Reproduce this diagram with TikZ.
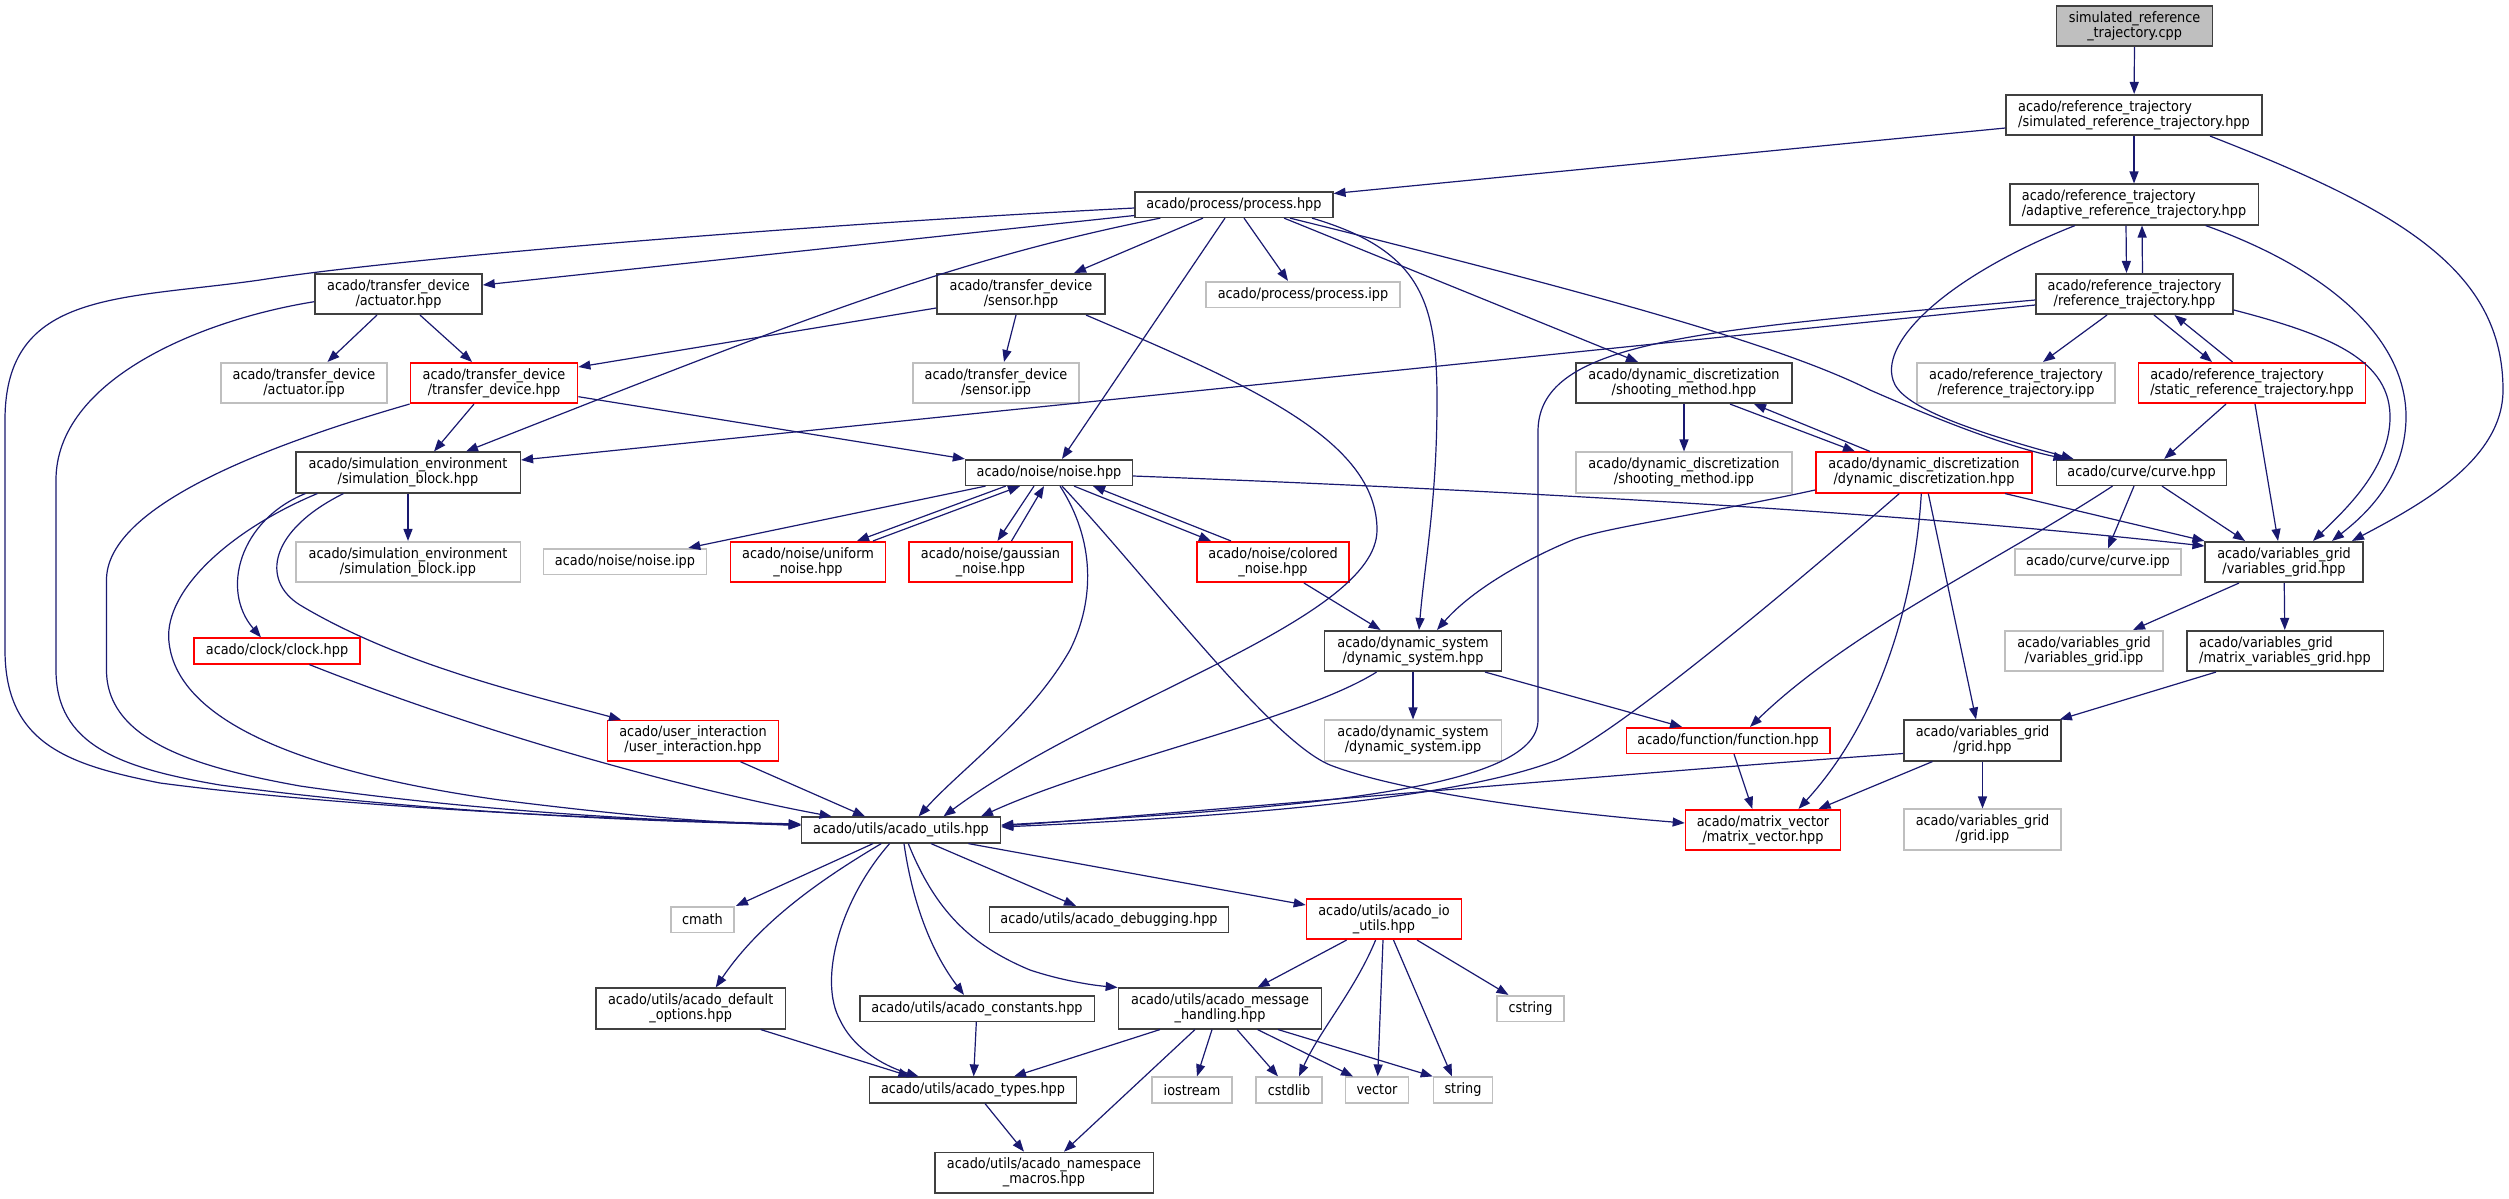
\documentclass[tikz,border=0pt]{standalone}
\usepackage{fontspec}
\setmainfont{DejaVu Sans}[FakeStretch=0.9]
\usetikzlibrary{arrows.meta}
\definecolor{edgec}{HTML}{191970}
\definecolor{dk}{HTML}{404040}
\definecolor{lg}{HTML}{BFBFBF}
\definecolor{rd}{HTML}{FF0000}
\begin{document}
\begin{tikzpicture}[x=1pt,y=-1pt,
  font=\fontsize{14.3pt}{15pt}\selectfont,
  box/.style={draw=dk, line width=1.6pt, fill=white, inner xsep=11pt, inner ysep=1pt, align=center},
  one/.style={box, minimum height=25.6pt},
  two/.style={box, minimum height=40.5pt},
  rb/.style={draw=rd},
  gb/.style={draw=lg},
  edg/.style={draw=edgec, line width=1.2pt, -{Triangle[length=12pt,width=9pt]}}]
\useasboundingbox[fill=white] (0,0) rectangle (2509,1199);
% nodes
\node[two, fill=lg, minimum width=156pt] (cpp) at (2134.6,26) {simulated\_reference\\\_trajectory.cpp};
\node[two, align=left, minimum width=255.5pt] (sim) at (2134,115) {acado/reference\_trajectory\\/simulated\_reference\_trajectory.hpp};
\node[two, align=left, minimum width=248.6pt] (adaptive) at (2134,204.5) {acado/reference\_trajectory\\/adaptive\_reference\_trajectory.hpp};
\node[two, minimum width=197pt] (reftraj) at (2134.5,294) {acado/reference\_trajectory\\/reference\_trajectory.hpp};
\node[two, gb, minimum width=197.5pt] (reftrajipp) at (2016,383) {acado/reference\_trajectory\\/reference\_trajectory.ipp};
\node[two, rb, align=left, minimum width=227.2pt] (static) at (2252,383) {acado/reference\_trajectory\\/static\_reference\_trajectory.hpp};
\node[one, minimum width=197.5pt] (process) at (1234,204.5) {acado/process/process.hpp};
\node[one, gb, minimum width=193.5pt] (processipp) at (1303,294.5) {acado/process/process.ipp};
\node[two, minimum width=167pt] (actuator) at (398.5,294) {acado/transfer\_device\\/actuator.hpp};
\node[two, gb, minimum width=166.4pt] (actuatoripp) at (304,383) {acado/transfer\_device\\/actuator.ipp};
\node[two, rb, minimum width=167.2pt] (transfer) at (494,383) {acado/transfer\_device\\/transfer\_device.hpp};
\node[two, minimum width=168pt] (sensor) at (1021,294) {acado/transfer\_device\\/sensor.hpp};
\node[two, gb, minimum width=166.5pt] (sensoripp) at (996,383) {acado/transfer\_device\\/sensor.ipp};
\node[two, minimum width=216pt] (shooting) at (1684,383) {acado/dynamic\_discretization\\/shooting\_method.hpp};
\node[two, minimum width=224.6pt] (simblock) at (408,472.5) {acado/simulation\_environment\\/simulation\_block.hpp};
\node[two, gb, minimum width=224.6pt] (simblockipp) at (408,562) {acado/simulation\_environment\\/simulation\_block.ipp};
\node[one, minimum width=166.7pt] (noise) at (1049,472.5) {acado/noise/noise.hpp};
\node[two, gb, minimum width=216pt] (shootingipp) at (1684,472.5) {acado/dynamic\_discretization\\/shooting\_method.ipp};
\node[two, rb, minimum width=216pt] (dyndisc) at (1924,472.5) {acado/dynamic\_discretization\\/dynamic\_discretization.hpp};
\node[one, minimum width=169.7pt] (curve) at (2141.5,472.5) {acado/curve/curve.hpp};
\node[one, gb, minimum width=162.8pt] (noiseipp) at (625,561.5) {acado/noise/noise.ipp};
\node[two, rb, minimum width=155.1pt] (uniform) at (808,562) {acado/noise/uniform\\\_noise.hpp};
\node[two, rb, minimum width=163pt] (gaussian) at (990.5,562) {acado/noise/gaussian\\\_noise.hpp};
\node[two, rb, minimum width=152.3pt] (colored) at (1273,562) {acado/noise/colored\\\_noise.hpp};
\node[one, gb, minimum width=165.6pt] (curveipp) at (2098,562) {acado/curve/curve.ipp};
\node[two, minimum width=157.5pt] (vargrid) at (2284,562) {acado/variables\_grid\\/variables\_grid.hpp};
\node[one, rb, minimum width=165.5pt] (clock) at (277,651) {acado/clock/clock.hpp};
\node[two, minimum width=176.8pt] (dynsys) at (1413,651) {acado/dynamic\_system\\/dynamic\_system.hpp};
\node[two, gb, minimum width=157.6pt] (vargridipp) at (2084,651) {acado/variables\_grid\\/variables\_grid.ipp};
\node[two, align=left, minimum width=196.6pt] (matvargrid) at (2285,651) {acado/variables\_grid\\/matrix\_variables\_grid.hpp};
\node[two, rb, minimum width=170.7pt] (userint) at (693,740.7) {acado/user\_interaction\\/user\_interaction.hpp};
\node[two, gb, minimum width=176.8pt] (dynsysipp) at (1413,740.5) {acado/dynamic\_system\\/dynamic\_system.ipp};
\node[one, rb, minimum width=203.4pt] (function) at (1728,740.5) {acado/function/function.hpp};
\node[two, minimum width=157.1pt] (grid) at (1982.5,740.5) {acado/variables\_grid\\/grid.hpp};
\node[one, minimum width=198.9pt] (utils) at (901,830) {acado/utils/acado\_utils.hpp};
\node[two, rb, minimum width=155pt] (matvec) at (1763,830) {acado/matrix\_vector\\/matrix\_vector.hpp};
\node[two, gb, minimum width=157.1pt] (gridipp) at (1982.5,829.5) {acado/variables\_grid\\/grid.ipp};
\node[one, gb, minimum width=63pt] (cmath) at (702.5,919.5) {cmath};
\node[one, minimum width=238.5pt] (debugging) at (1109,919.5) {acado/utils/acado\_debugging.hpp};
\node[two, rb, minimum width=155pt] (ioutils) at (1384,919) {acado/utils/acado\_io\\\_utils.hpp};
\node[two, minimum width=189.8pt] (defopts) at (690.7,1008.5) {acado/utils/acado\_default\\\_options.hpp};
\node[one, minimum width=234.6pt] (constants) at (977,1008.5) {acado/utils/acado\_constants.hpp};
\node[two, minimum width=203.1pt] (msghandling) at (1220,1008.5) {acado/utils/acado\_message\\\_handling.hpp};
\node[one, gb, minimum width=67pt] (cstring) at (1530.5,1008.5) {cstring};
\node[one, minimum width=206.9pt] (types) at (973,1090) {acado/utils/acado\_types.hpp};
\node[one, gb, minimum width=80pt] (iostream) at (1192,1090) {iostream};
\node[one, gb, minimum width=65.5pt] (cstdlib) at (1289,1090) {cstdlib};
\node[one, gb, minimum width=63pt] (vector) at (1377,1090) {vector};
\node[one, gb, minimum width=58.7pt] (string) at (1463,1090) {string};
\node[two, minimum width=218.6pt] (namespace) at (1044,1172.7) {acado/utils/acado\_namespace\\\_macros.hpp};
% edges
\draw[edg] (cpp) -- (sim);
\draw[edg] (sim) -- (adaptive);
\draw[edg] ([yshift=-13pt]sim.west) -- ([yshift=11pt]process.east);
\draw[edg] ([xshift=76pt]sim.south) .. controls (2400,210) and (2503,270) .. (2503,390) .. controls (2503,460) and (2420,505) .. ([xshift=68pt]vargrid.north);
\draw[edg] ([xshift=-8pt]adaptive.south) -- ([xshift=-8pt]reftraj.north);
\draw[edg] ([xshift=8pt]reftraj.north) -- ([xshift=8pt]adaptive.south);
\draw[edg] ([xshift=-59pt]adaptive.south) .. controls (1950,275) and (1880,340) .. (1893,380) .. controls (1900,405) and (1960,428) .. ([xshift=-68pt]curve.north);
\draw[edg] ([xshift=71.6pt]adaptive.south) .. controls (2330,270) and (2408,340) .. (2406,420) .. controls (2404,480) and (2365,515) .. ([xshift=48pt]vargrid.north);
\draw[edg] ([xshift=-27.5pt]reftraj.south) -- ([xshift=27pt]reftrajipp.north);
\draw[edg] ([xshift=19.5pt]reftraj.south) -- ([xshift=-40pt]static.north);
\draw[edg] ([xshift=-19.5pt]static.north) -- ([xshift=40pt]reftraj.south);
\draw[edg] ([yshift=-16pt]reftraj.east) .. controls (2330,335) and (2392,360) .. (2390,420) .. controls (2388,470) and (2345,510) .. ([xshift=29pt]vargrid.north);
\draw[edg] ([xshift=3pt]static.south) -- ([xshift=-6pt]vargrid.north);
\draw[edg] ([xshift=-26pt]static.south) -- ([xshift=22.7pt]curve.north);
\draw[edg] ([yshift=-11pt]reftraj.west) -- ([yshift=12.5pt]simblock.east);
\draw[edg] ([yshift=-6pt]reftraj.west) .. controls (1700,330) and (1540,340) .. (1538,430) -- (1538,720) .. controls (1538,790) and (1300,808) .. ([yshift=5pt]utils.east);
\draw[edg] ([yshift=-11pt]process.west) -- ([yshift=9pt]actuator.east);
\draw[edg] ([xshift=-31pt]process.south) -- ([xshift=53pt]sensor.north);
\draw[edg] ([xshift=10pt]process.south) -- ([xshift=-15pt]processipp.north);
\draw[edg] ([yshift=-3.5pt]process.west) .. controls (800,225) and (400,258) .. (260,280) .. controls (120,300) and (5,290) .. (5,420) -- (5,650) .. controls (5,745) and (70,765) .. (160,783) .. controls (350,808) and (620,820) .. ([yshift=6pt]utils.west);
\draw[edg] ([xshift=-73.6pt]process.south) .. controls (950,260) and (800,320) .. ([xshift=58pt]simblock.north);
\draw[edg] ([xshift=-9pt]process.south) -- ([xshift=13pt]noise.north);
\draw[edg] ([xshift=78pt]process.south) .. controls (1420,250) and (1437,300) .. (1437,400) .. controls (1437,500) and (1425,560) .. ([xshift=6pt]dynsys.north);
\draw[edg] ([xshift=50pt]process.south) -- ([xshift=-46pt]shooting.north);
\draw[edg] ([xshift=56pt]process.south) .. controls (1600,295) and (1780,345) .. (1870,390) .. controls (1950,425) and (2010,447) .. ([xshift=-76pt]curve.north);
\draw[edg] ([xshift=-21.5pt]actuator.south) -- ([xshift=23.5pt]actuatoripp.north);
\draw[edg] ([xshift=21.5pt]actuator.south) -- ([xshift=-22pt]transfer.north);
\draw[edg] ([yshift=-7.7pt]actuator.west) .. controls (200,320) and (56,380) .. (56,480) -- (56,670) .. controls (56,745) and (120,768) .. (220,785) .. controls (420,812) and (650,822) .. ([yshift=5.5pt]utils.west);
\draw[edg] ([yshift=-14pt]sensor.west) -- ([yshift=16pt]transfer.east);
\draw[edg] ([xshift=-5pt]sensor.south) -- ([xshift=8pt]sensoripp.north);
\draw[edg] ([xshift=65pt]sensor.south) .. controls (1250,385) and (1377,440) .. (1377,530) .. controls (1377,620) and (1100,700) .. ([xshift=42.5pt]utils.north);
\draw[edg] ([xshift=-20pt]transfer.south) -- ([xshift=26pt]simblock.north);
\draw[edg] ([yshift=-13.7pt]transfer.east) -- (noise.north west);
\draw[edg] (transfer.south west) .. controls (250,450) and (106.5,510) .. (106.5,580) -- (106.5,670) .. controls (106.5,742) and (200,768) .. (300,786) .. controls (500,815) and (700,822) .. ([yshift=5pt]utils.west);
\draw[edg] (simblock) -- (simblockipp);
\draw[edg] ([xshift=-102.6pt]simblock.south) .. controls (240,520) and (220,590) .. ([xshift=-16pt]clock.north);
\draw[edg] ([xshift=-64.5pt]simblock.south) .. controls (270,530) and (260,580) .. (300,605) .. controls (400,665) and (530,695) .. ([xshift=-72pt]userint.north);
\draw[edg] ([xshift=-90.6pt]simblock.south) .. controls (230,530) and (165,590) .. (168.8,640) .. controls (175,720) and (300,772) .. (500,800) .. controls (620,815) and (700,822) .. ([yshift=4.5pt]utils.west);
\draw[edg] ([xshift=32.4pt]clock.south) .. controls (500,740) and (700,792) .. ([xshift=-69.4pt]utils.north);
\draw[edg] ([xshift=47.5pt]userint.south) -- ([xshift=-36pt]utils.north);
\draw[edg] ([xshift=-63.4pt]noise.south) -- ([xshift=63.3pt]noiseipp.north);
\draw[edg] ([xshift=-43.3pt]noise.south) -- ([xshift=49pt]uniform.north);
\draw[edg] ([xshift=65pt]uniform.north) -- ([xshift=-29pt]noise.south);
\draw[edg] ([xshift=-15pt]noise.south) -- ([xshift=7pt]gaussian.north);
\draw[edg] ([xshift=21pt]gaussian.north) -- ([xshift=-5pt]noise.south);
\draw[edg] ([xshift=25pt]noise.south) -- ([xshift=-62pt]colored.north);
\draw[edg] ([xshift=-42pt]colored.north) -- ([xshift=44pt]noise.south);
\draw[edg] ([yshift=-3.5pt]noise.east) .. controls (1500,490) and (1900,512) .. ([yshift=16pt]vargrid.west);
\draw[edg] ([xshift=11pt]noise.south) .. controls (1095,540) and (1095,600) .. (1070,650) .. controls (1030,720) and (960,770) .. ([xshift=17.6pt]utils.north);
\draw[edg] ([xshift=13pt]noise.south) .. controls (1150,580) and (1270,740) .. (1330,765) .. controls (1400,792) and (1550,812) .. ([yshift=7pt]matvec.west);
\draw[edg] ([xshift=31pt]colored.south) -- ([xshift=-32.4pt]dynsys.north);
\draw[edg] (shooting) -- (shootingipp);
\draw[edg] ([xshift=46pt]shooting.south) -- ([xshift=-69pt]dyndisc.north);
\draw[edg] ([xshift=-54pt]dyndisc.north) -- ([xshift=70pt]shooting.south);
\draw[edg] ([yshift=-17.5pt]dyndisc.west) .. controls (1700,515) and (1600,528) .. (1570,541) .. controls (1520,562) and (1470,592) .. ([xshift=24pt]dynsys.north);
\draw[edg] ([xshift=-24.7pt]dyndisc.south) .. controls (1800,580) and (1620,732) .. (1557,760) .. controls (1450,802) and (1200,818) .. ([yshift=3pt]utils.east);
\draw[edg] ([xshift=-2.7pt]dyndisc.south) .. controls (1915,600) and (1880,720) .. ([xshift=35.5pt]matvec.north);
\draw[edg] ([xshift=4.3pt]dyndisc.south) -- ([xshift=-6.5pt]grid.north);
\draw[edg] ([xshift=81pt]dyndisc.south) -- (vargrid.north west);
\draw[edg] ([xshift=-7.5pt]curve.south) -- ([xshift=10pt]curveipp.north);
\draw[edg] ([xshift=20.5pt]curve.south) -- ([xshift=-39pt]vargrid.north);
\draw[edg] ([xshift=-29pt]curve.south) .. controls (2000,560) and (1850,630) .. ([xshift=22pt]function.north);
\draw[edg] ([xshift=-45pt]vargrid.south) -- ([xshift=49pt]vargridipp.north);
\draw[edg] (vargrid) -- (matvargrid);
\draw[edg] ([xshift=-69pt]matvargrid.south) -- ([xshift=-2pt]grid.north east);
\draw[edg] (grid) -- (gridipp);
\draw[edg] ([yshift=-13pt]grid.west) .. controls (1600,775) and (1200,812) .. ([yshift=4pt]utils.east);
\draw[edg] ([xshift=-50pt]grid.south) -- ([xshift=55.6pt]matvec.north);
\draw[edg] (dynsys) -- (dynsysipp);
\draw[edg] ([xshift=72pt]dynsys.south) -- ([xshift=-46pt]function.north);
\draw[edg] ([xshift=-36.4pt]dynsys.south) .. controls (1300,720) and (1100,762) .. ([xshift=80pt]utils.north);
\draw[edg] ([xshift=6pt]function.south) -- ([xshift=-10.7pt]matvec.north);
\draw[edg] ([xshift=-28pt]utils.south) -- ([xshift=33.5pt]cmath.north);
\draw[edg] ([xshift=-19.7pt]utils.south) .. controls (820,880) and (760,922) .. ([xshift=25pt]defopts.north);
\draw[edg] ([xshift=-11.4pt]utils.south) .. controls (840,900) and (818,980) .. (840,1020) .. controls (855,1052) and (890,1068) .. ([xshift=-54.4pt]types.north);
\draw[edg] ([xshift=3pt]utils.south) .. controls (912,900) and (930,950) .. ([xshift=-13pt]constants.north);
\draw[edg] ([xshift=7.3pt]utils.south) .. controls (935,910) and (970,945) .. (1030,970) .. controls (1060,980) and (1090,985) .. (msghandling.north west);
\draw[edg] ([xshift=30pt]utils.south) -- ([xshift=-33pt]debugging.north);
\draw[edg] ([xshift=67.4pt]utils.south) -- ([yshift=14pt]ioutils.west);
\draw[edg] ([xshift=-37.4pt]ioutils.south) -- ([xshift=37.5pt]msghandling.north);
\draw[edg] ([xshift=-8.4pt]ioutils.south) .. controls (1355,990) and (1320,1030) .. ([xshift=10pt]cstdlib.north);
\draw[edg] ([xshift=-1pt]ioutils.south) -- ([xshift=0.7pt]vector.north);
\draw[edg] ([xshift=9.5pt]ioutils.south) -- ([xshift=-11pt]string.north);
\draw[edg] ([xshift=33pt]ioutils.south) -- ([xshift=-22pt]cstring.north);
\draw[edg] ([xshift=-60pt]msghandling.south) -- ([xshift=41pt]types.north);
\draw[edg] ([xshift=-25pt]msghandling.south) -- ([xshift=20pt]namespace.north);
\draw[edg] ([xshift=-8pt]msghandling.south) -- ([xshift=5pt]iostream.north);
\draw[edg] ([xshift=17pt]msghandling.south) -- ([xshift=-11pt]cstdlib.north);
\draw[edg] ([xshift=37.5pt]msghandling.south) -- ([xshift=-24pt]vector.north);
\draw[edg] ([xshift=58pt]msghandling.south) -- (string.north west);
\draw[edg] ([xshift=70pt]defopts.south) -- ([xshift=-62.6pt]types.north);
\draw[edg] (constants) -- (types);
\draw[edg] ([xshift=12pt]types.south) -- ([xshift=-20pt]namespace.north);
\end{tikzpicture}
\end{document}
